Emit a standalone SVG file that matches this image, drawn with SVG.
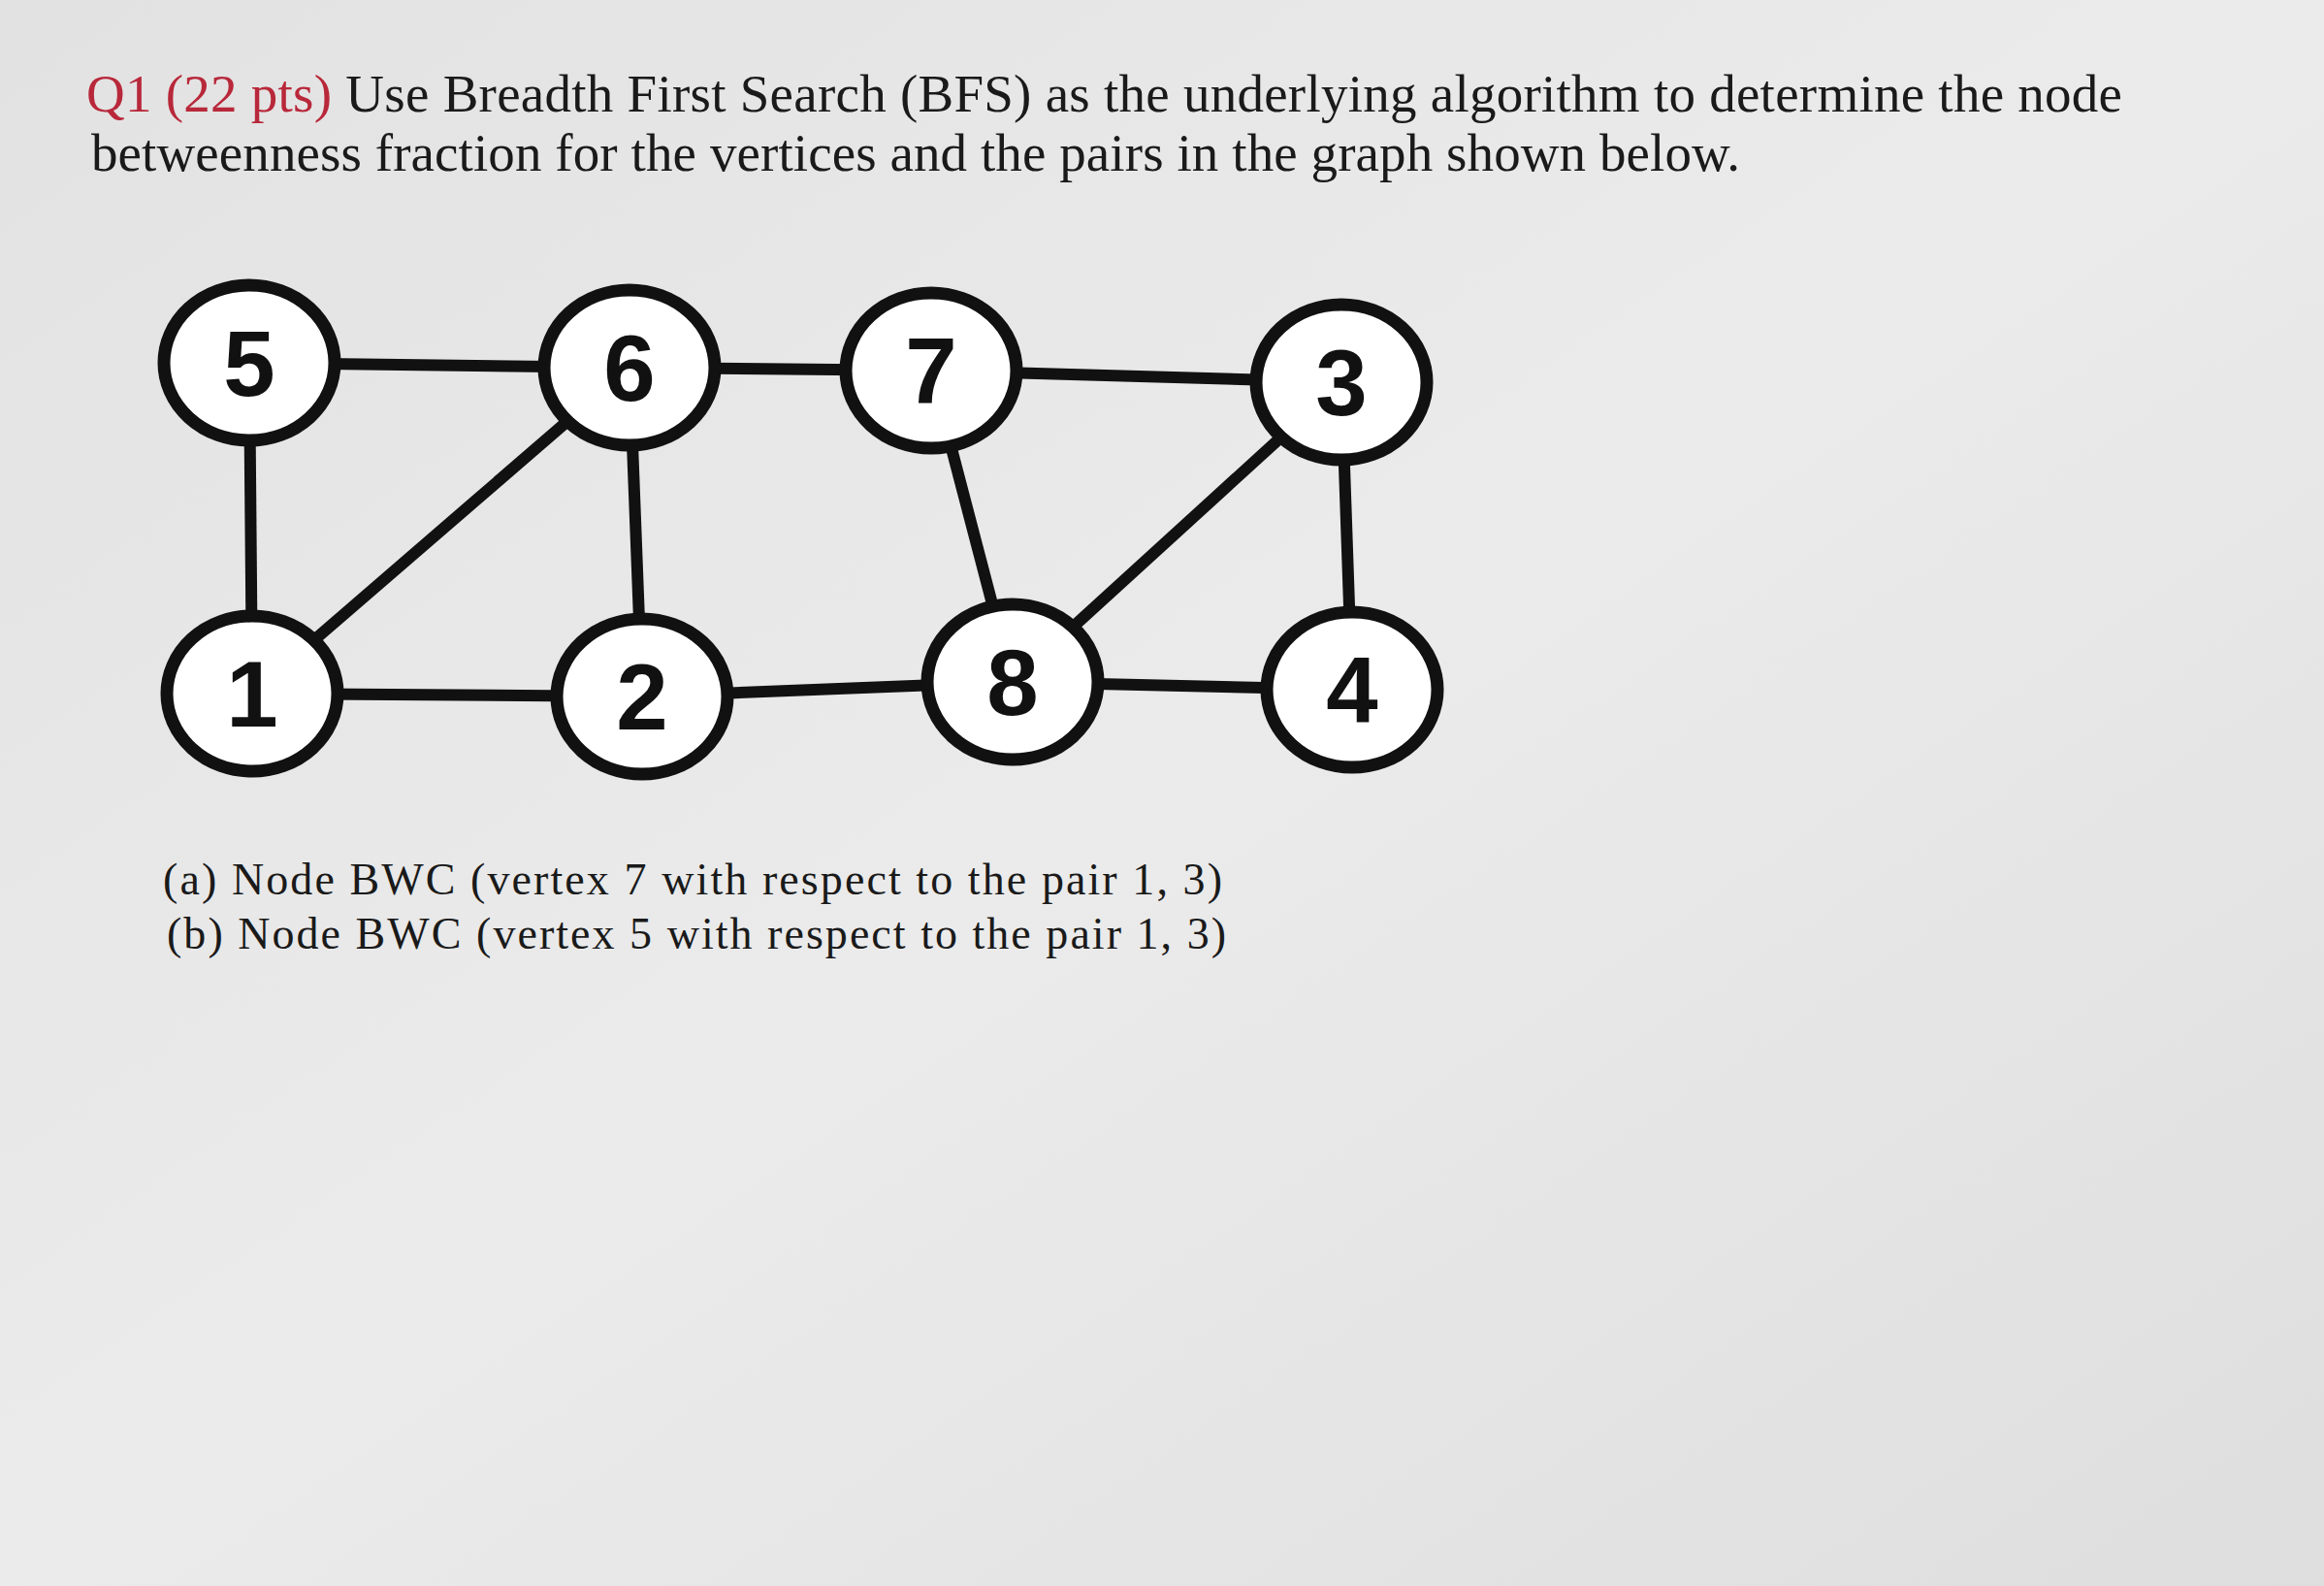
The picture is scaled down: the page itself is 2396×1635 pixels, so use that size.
<svg xmlns="http://www.w3.org/2000/svg" width="2396" height="1635" viewBox="0 0 2396 1635">
<defs>
<linearGradient id="bg" x1="0" y1="0" x2="1" y2="1">
<stop offset="0" stop-color="#e2e2e2"/><stop offset="0.5" stop-color="#ebebeb"/><stop offset="1" stop-color="#dedede"/>
</linearGradient>
<style>
.t{font-family:"Liberation Serif",serif;fill:#1a1a1a}
.e{stroke:#111;stroke-width:12;fill:none}
.n ellipse{fill:#fff;stroke:#111;stroke-width:13}
.n text{font-family:"Liberation Sans",Arial,sans-serif;font-weight:bold;font-size:96px;fill:#111;text-anchor:middle}
</style>
</defs>
<rect width="2396" height="1635" fill="url(#bg)"/>
<text class="t" x="89" y="115" font-size="55" textLength="2099"><tspan fill="#b8283a">Q1 (22 pts)</tspan> Use Breadth First Search (BFS) as the underlying algorithm to determine the node</text>
<text class="t" x="94" y="176" font-size="55" textLength="1700">betweenness fraction for the vertices and the pairs in the graph shown below.</text>
<g id="connectors">
<line class="e" x1="257" y1="374" x2="649" y2="379"/>
<line class="e" x1="649" y1="379" x2="960" y2="382"/>
<line class="e" x1="960" y1="382" x2="1383" y2="394"/>
<line class="e" x1="257" y1="374" x2="260" y2="715"/>
<line class="e" x1="649" y1="379" x2="260" y2="715"/>
<line class="e" x1="649" y1="379" x2="662" y2="718"/>
<line class="e" x1="960" y1="382" x2="1044" y2="703"/>
<line class="e" x1="1044" y1="703" x2="1383" y2="394"/>
<line class="e" x1="1383" y1="394" x2="1394" y2="711"/>
<line class="e" x1="260" y1="715" x2="662" y2="718"/>
<line class="e" x1="662" y1="718" x2="1044" y2="703"/>
<line class="e" x1="1044" y1="703" x2="1394" y2="711"/>
</g>
<g id="n5" class="n"><ellipse cx="257" cy="374" rx="88" ry="80"/><text x="257" y="408">5</text></g>
<g id="n6" class="n"><ellipse cx="649" cy="379" rx="88" ry="80"/><text x="649" y="413">6</text></g>
<g id="n7" class="n"><ellipse cx="960" cy="382" rx="88" ry="80"/><text x="960" y="416">7</text></g>
<g id="n3" class="n"><ellipse cx="1383" cy="394" rx="88" ry="80"/><text x="1383" y="428">3</text></g>
<g id="n1" class="n"><ellipse cx="260" cy="715" rx="88" ry="80"/><text x="260" y="749">1</text></g>
<g id="n2" class="n"><ellipse cx="662" cy="718" rx="88" ry="80"/><text x="662" y="752">2</text></g>
<g id="n8" class="n"><ellipse cx="1044" cy="703" rx="88" ry="80"/><text x="1044" y="737">8</text></g>
<g id="n4" class="n"><ellipse cx="1394" cy="711" rx="88" ry="80"/><text x="1394" y="745">4</text></g>
<text class="t" x="168" y="922" font-size="46" textLength="1092">(a) Node BWC (vertex 7 with respect to the pair 1, 3)</text>
<text class="t" x="172" y="978" font-size="46" textLength="1092">(b) Node BWC (vertex 5 with respect to the pair 1, 3)</text>
</svg>
